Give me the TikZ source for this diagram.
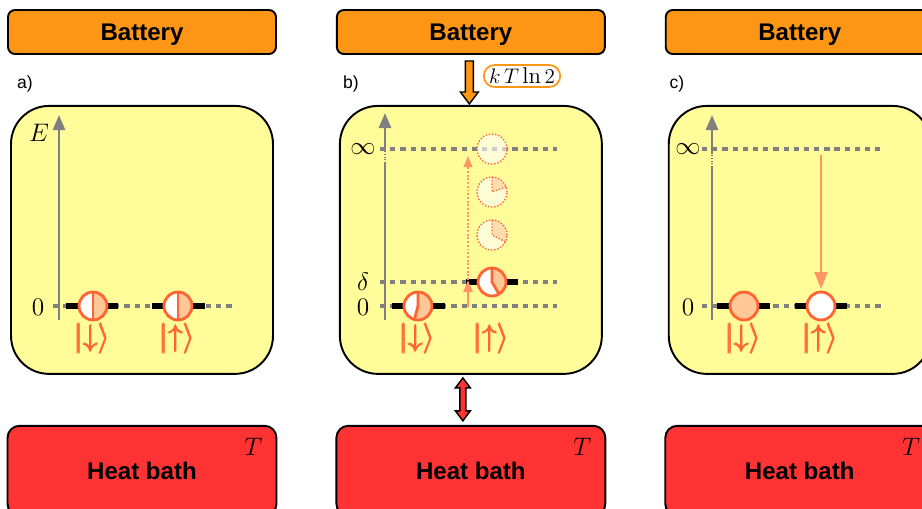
\documentclass[tikz,border=0pt]{standalone}
\usepackage{amsmath, amssymb}
\usepackage{fontspec}
\newfontfamily\arialfont{Liberation Sans}
\usepackage{xcolor}
\usepackage{tikz}
\usetikzlibrary{positioning, arrows.meta, calc}

\definecolor{batorange}{RGB}{252,150,20}
\definecolor{boxyellow}{RGB}{255,252,153}
\definecolor{bathred}{RGB}{255,51,51}
\definecolor{spinred}{RGB}{255,100,50}
\definecolor{spinpeach}{RGB}{255,200,150}
\definecolor{arrowsalmon}{RGB}{255,150,100}
\definecolor{axisgray}{RGB}{128,128,128}

\tikzset{
  pics/spin/.style args={#1/#2}{code={
    \fill[white] (0,0) circle[radius=0.28cm];
    \fill[spinpeach] (0,0) -- (#1:0.28cm) arc[start angle=#1, end angle=#2, radius=0.28cm] -- cycle;
    \draw[spinred, line width=1.6pt, line join=round] (#1:0.28cm) -- (0,0) -- (#2:0.28cm);
    \draw[spinred, line width=1.6pt] (0,0) circle[radius=0.28cm];
  }},
  pics/ghost/.style args={#1/#2}{code={
    \fill[white, opacity=0.6] (0,0) circle[radius=0.3cm];
    \fill[spinpeach, opacity=0.6] (0,0) -- (#1:0.3cm) arc[start angle=#1, end angle=#2, radius=0.3cm] -- cycle;
    \draw[spinred, densely dotted, line width=0.8pt] (#1:0.3cm) -- (0,0) -- (#2:0.3cm);
    \draw[spinred, densely dotted, line width=0.8pt] (0,0) circle[radius=0.3cm];
  }}
}

\begin{document}
\begin{tikzpicture}[x=0.02cm, y=-0.02cm,
    battery/.style={draw, line width=1.1pt, fill=batorange, rounded corners=0.14cm,
      minimum width=5.36cm, minimum height=0.88cm, text depth=0pt,
      font=\arialfont\bfseries\fontsize{13.7}{16}\selectfont},
    panel/.style={draw, line width=1.1pt, fill=boxyellow, rounded corners=0.76cm,
      minimum width=5.24cm, minimum height=5.36cm},
    bath/.style={draw, line width=1.1pt, fill=bathred, rounded corners=0.24cm,
      minimum width=5.38cm, minimum height=1.8cm,
      font=\arialfont\bfseries\fontsize{13.7}{16}\selectfont},
    tag/.style={font=\arialfont\fontsize{10}{12}\selectfont},
    lbl/.style={font=\fontsize{14}{16}\selectfont},
    ket/.style={text=spinred, font=\fontsize{16}{19}\selectfont},
    axis/.style={axisgray, line width=1.5pt},
    axisbreak/.style={axisgray, line width=1.5pt, dash pattern=on 0.6pt off 0.9pt},
    level/.style={axisgray, line width=2pt, dash pattern=on 3pt off 2.8pt},
    bar/.style={line width=3.4pt},
    fat/.style={draw, line width=0.8pt, line join=miter},
    tip/.style={-{Triangle[length=0.3cm, width=0.24cm]}}
  ]
  \useasboundingbox (0,0) rectangle (922,508);
  \clip (0,0) rectangle (922,508);

  % boxes
  \node[battery] (bata) at (142,32) {Battery};
  \node[battery, right=1.18cm of bata] (batb) {Battery};
  \node[battery, right=1.18cm of batb] (batc) {Battery};
  \node[panel, below=1cm of bata] (boxa) {};
  \node[panel, below=1cm of batb] (boxb) {};
  \node[panel, below=1cm of batc] (boxc) {};
  \node[bath, below=1cm of boxa] (batha) {Heat bath};
  \node[bath, below=1cm of boxb] (bathb) {Heat bath};
  \node[bath, below=1cm of boxc] (bathc) {Heat bath};
  \node[lbl] (ta) at ($(batha.north east)+(-24,22)$) {$T$};
  \node[lbl] (tb) at ($(bathb.north east)+(-24,22)$) {$T$};
  \node[lbl] (tc) at ($(bathc.north east)+(-24,22)$) {$T$};

  \node[tag] (taga) at (25,84) {a)};
  \node[tag] (tagb) at (351,84) {b)};
  \node[tag] (tagc) at (677,84) {c)};

  % work from the battery, exchange with the bath
  \draw[fat, fill=batorange] let \p1=($(batb.south)+(-1.5,6)$), \p2=($(boxb.north)+(-2.5,-1)$) in
    (\x1-0.08cm,\y1) -- (\x1-0.08cm,\y2+0.24cm) -- (\x1-0.18cm,\y2+0.24cm) -- (\x1,\y2)
    -- (\x1+0.18cm,\y2+0.24cm) -- (\x1+0.08cm,\y2+0.24cm) -- (\x1+0.08cm,\y1) -- cycle;
  \node[draw=batorange, line width=1pt, fill=white, rounded corners=0.22cm,
    minimum height=0.44cm, inner xsep=3pt, inner ysep=1pt,
    font=\fontsize{13}{15}\selectfont] (work) at (522,76) {$k\,T\ln 2$};
  \draw[fat, fill=bathred] let \p1=($(boxb.south)+(-8,3)$), \p2=($(bathb.north)+(-8,-4)$) in
    (\x1,\y1) -- (\x1+0.15cm,\y1-0.2cm) -- (\x1+0.06cm,\y1-0.2cm) -- (\x1+0.06cm,\y2+0.2cm)
    -- (\x1+0.15cm,\y2+0.2cm) -- (\x1,\y2) -- (\x1-0.15cm,\y2+0.2cm) -- (\x1-0.06cm,\y2+0.2cm)
    -- (\x1-0.06cm,\y1-0.2cm) -- (\x1-0.15cm,\y1-0.2cm) -- cycle;

  % panel a
  \draw[level] (53,306) -- (233,306);
  \draw[bar] (66,306) -- (118,306);
  \draw[bar] (152,306) -- (205,306);
  \draw[axis, tip] (59,320) -- (59,115);
  \node[lbl] (ea) at (39,133) {$E$};
  \node[lbl] (za) at (38,307) {$0$};
  \pic at (93,306) {spin=-90/90};
  \pic at (178,306) {spin=-90/90};
  \node[ket] (downa) at (93,338) {$\pmb{|{\downarrow}\rangle}$};
  \node[ket] (upa) at (178,338) {$\pmb{|{\uparrow}\rangle}$};

  % panel b
  \draw[level] (380,149) -- (557,149);
  \draw[level] (380,282) -- (557,282);
  \draw[level] (380,306) -- (557,306);
  \draw[bar] (392,306) -- (445,306);
  \draw[bar] (466,282) -- (518,282);
  \draw[axis] (385,320) -- (385,163);
  \draw[axisbreak] (385,163) -- (385,151);
  \draw[axis, tip] (385,151) -- (385,113);
  \node[lbl] (infb) at (363,149) {$\infty$};
  \node[lbl] (db) at (363,282) {$\delta$};
  \node[lbl] (zb) at (363,307) {$0$};
  \draw[arrowsalmon, line width=1.6pt, -{Triangle[length=0.24cm, width=0.18cm]}] (468,307) -- (468,280);
  \draw[arrowsalmon, line width=1.1pt, densely dotted, -{Triangle[length=0.22cm, width=0.17cm]}] (468,280) -- (468,156);
  \pic at (418,306) {spin=-105/90};
  \pic at (492,282) {spin=-60/90};
  \pic at (492,235) {ghost=-27/90};
  \pic at (492,192) {ghost=20/90};
  \fill[white, opacity=0.6] (492,149) circle[radius=0.3cm];
  \draw[spinred, densely dotted, line width=0.8pt] (492,149) circle[radius=0.3cm];
  \node[ket] (downb) at (418,338) {$\pmb{|{\downarrow}\rangle}$};
  \node[ket] (upb) at (492,338) {$\pmb{|{\uparrow}\rangle}$};

  % panel c
  \draw[level] (702,149) -- (880,149);
  \draw[level] (702,306) -- (883,306);
  \draw[bar] (717,306) -- (770,306);
  \draw[bar] (795,306) -- (847,306);
  \draw[axis] (712,320) -- (712,167);
  \draw[axisbreak] (712,167) -- (712,153);
  \draw[axis, tip] (712,153) -- (712,115);
  \node[lbl] (infc) at (688,149) {$\infty$};
  \node[lbl] (zc) at (688,307) {$0$};
  \draw[arrowsalmon, line width=1.1pt, -{Triangle[length=0.34cm, width=0.26cm]}] (821,155) -- (821,289);
  \filldraw[fill=spinpeach, draw=spinred, line width=1.6pt] (744,306) circle[radius=0.28cm];
  \filldraw[fill=white, draw=spinred, line width=1.6pt] (821,306) circle[radius=0.28cm];
  \node[ket] (downc) at (744,338) {$\pmb{|{\downarrow}\rangle}$};
  \node[ket] (upc) at (821,338) {$\pmb{|{\uparrow}\rangle}$};
\end{tikzpicture}
\end{document}
